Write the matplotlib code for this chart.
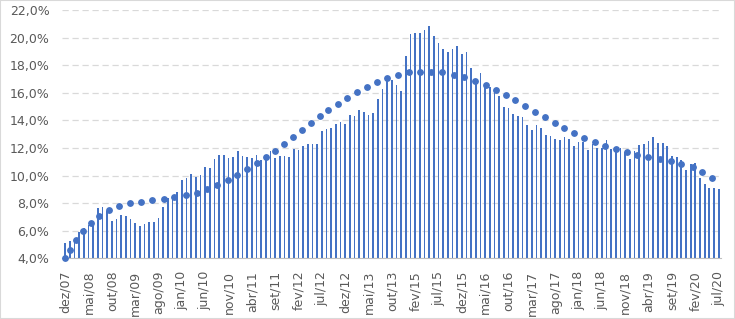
import matplotlib.pyplot as plt
from matplotlib.patches import Rectangle

# month names (pt-BR) for the category axis
meses = ["jan", "fev", "mar", "abr", "mai", "jun", "jul", "ago", "set", "out", "nov", "dez"]


def month_labels(y0, m0, y1, m1):
    out = []
    y, m = y0, m0
    while (y, m) <= (y1, m1):
        out.append(f"{meses[m - 1]}/{y % 100:02d}")
        m += 1
        if m > 12:
            m = 1
            y += 1
    return out


# categories: series skips most of 2014
categories = month_labels(2007, 12, 2013, 12) + month_labels(2014, 12, 2020, 7)

# monthly rate (%), one bar per category
rate = [
    5.09, 5.26, 5.45, 5.93, 6.18, 6.40, 6.35, 7.67, 7.75, 7.40,
    6.73, 6.83, 7.14, 7.10, 6.85, 6.54, 6.37, 6.51, 6.63, 6.63,
    6.92, 7.75, 8.38, 8.43, 8.83, 9.68, 9.80, 10.14, 9.88, 10.04,
    10.60, 10.58, 11.18, 11.47, 11.47, 11.28, 11.37, 11.79, 11.40, 11.37,
    11.28, 11.47, 11.12, 11.52, 11.76, 11.27, 11.42, 11.38, 11.34, 11.93,
    11.87, 12.15, 12.30, 12.28, 12.25, 13.23, 13.37, 13.44, 13.76, 13.88,
    13.73, 14.42, 14.31, 14.76, 14.57, 14.40, 14.53, 15.55, 16.27, 16.99,
    16.94, 16.55, 16.16, 18.68, 20.28, 20.33, 20.30, 20.57, 20.86, 20.08,
    19.60, 19.19, 18.92, 19.17, 19.40, 18.83, 18.95, 17.76, 17.00, 17.42,
    16.57, 16.40, 16.24, 15.73, 15.00, 14.93, 14.47, 14.33, 14.23, 13.67,
    13.28, 13.66, 13.45, 12.94, 12.86, 12.68, 12.58, 12.80, 12.66, 12.12,
    12.42, 12.44, 11.86, 12.30, 11.98, 11.97, 12.56, 11.93, 11.97, 11.99,
    11.74, 11.20, 11.77, 12.18, 12.25, 12.47, 12.78, 12.35, 12.35, 12.15,
    11.40, 11.35, 11.16, 10.41, 10.83, 10.90, 9.80, 9.35, 9.10, 9.08,
    9.05,
]

# trend series (dots): position on the category axis and value (%)
trend_pos = [
    0.0, 1.07, 2.29, 3.79, 5.42, 7.2, 9.3, 11.57, 13.92, 16.28, 18.63, 21.05,
    23.4, 25.85, 28.13, 30.43, 32.6, 34.85, 36.9, 39.0, 41.05, 42.98, 44.9,
    46.8, 48.76, 50.7, 52.55, 54.5, 56.4, 58.4, 60.4, 62.5, 64.6, 66.76, 68.97,
    71.3, 73.7, 76.0, 78.4, 80.8, 83.2, 85.5, 87.8, 90.1,
    92.2, 94.4, 96.4, 98.6, 100.7, 102.7, 104.9, 106.9, 109.1, 111.2, 113.4, 115.7,
    118.0, 120.3, 122.6, 124.9, 127.4, 129.7, 132.0, 134.4, 136.5, 138.5,
]
trend_val = [
    4.0, 4.62, 5.33, 6.0, 6.58, 7.09, 7.5, 7.8, 7.99, 8.11, 8.21, 8.3,
    8.43, 8.57, 8.76, 9.0, 9.32, 9.66, 10.05, 10.46, 10.89, 11.35, 11.81,
    12.29, 12.82, 13.31, 13.8, 14.28, 14.76, 15.2, 15.65, 16.07, 16.45, 16.8, 17.08,
    17.3, 17.47, 17.52, 17.54, 17.47, 17.3, 17.14, 16.87, 16.53,
    16.19, 15.83, 15.44, 15.05, 14.64, 14.25, 13.84, 13.48, 13.09, 12.75, 12.44, 12.15,
    11.91, 11.69, 11.47, 11.33, 11.18, 11.04, 10.84, 10.6, 10.26, 9.85,
]

blue = "#4472C4"
grey_txt = "#595959"

fig = plt.figure(figsize=(7.35, 3.19), dpi=100)
ax = fig.add_axes([62 / 735, (319 - 258.3) / 319, (721 - 62) / 735, (258.3 - 10) / 319])

x = list(range(len(categories)))
ax.bar(x, rate, width=0.36, color=blue, zorder=2)
ax.plot(trend_pos, trend_val, "o", color=blue, ms=3.9, zorder=3, clip_on=False)

ax.set_ylim(4, 22)
ax.set_xlim(-0.7, len(categories) - 0.5)

yt = list(range(4, 23, 2))
ax.set_yticks(yt)
ax.set_yticklabels([f"{v:.1f}%".replace(".", ",") for v in yt])

xt = [i for i in x if i % 5 == 0]
ax.set_xticks(xt)
ax.set_xticklabels([categories[i] for i in xt], rotation=90)

ax.grid(axis="y", color="#d9d9d9", linestyle=(0, (5, 3)), linewidth=0.9, zorder=0)
ax.set_axisbelow(True)
for s in ["top", "right", "left"]:
    ax.spines[s].set_visible(False)
ax.spines["bottom"].set_color("#bfbfbf")
ax.tick_params(length=0, labelsize=9, labelcolor=grey_txt)
ax.tick_params(axis="y", pad=9)
ax.tick_params(axis="x", pad=9)

# light chart border
fig.patches.append(Rectangle((0, 0), 1, 1, transform=fig.transFigure, fill=False,
                             edgecolor="#d9d9d9", linewidth=1.5))

fig.savefig("out.png", dpi=100)
